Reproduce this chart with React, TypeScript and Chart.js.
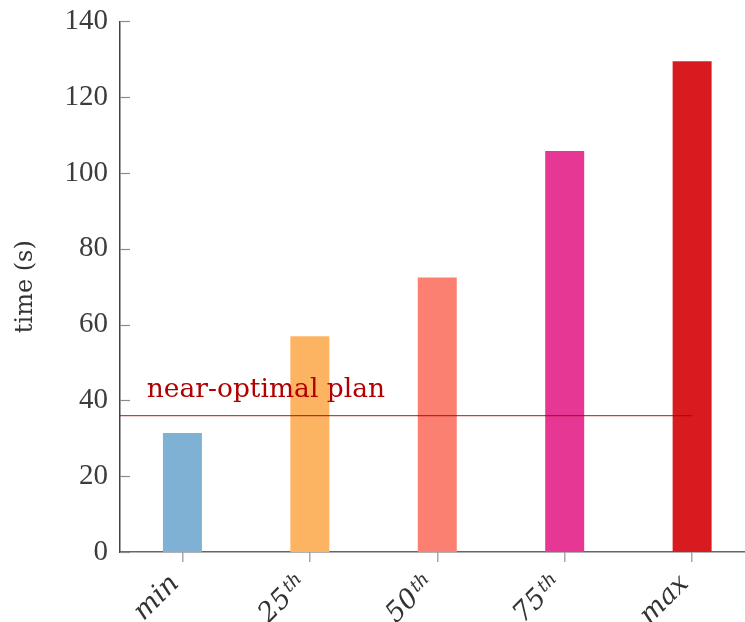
import React, { useEffect, useRef } from "react";
import { Chart, registerables } from "chart.js";

Chart.register(...registerables);

const categories = ["min", "25", "50", "75", "max"];
const superscripts = ["", "th", "th", "th", ""];
const times = [31.4, 56.9, 72.4, 105.8, 129.5];
const barColors = ["#7eb1d4", "#fdb462", "#fb8072", "#e63795", "#d81b1e"];
const yTickValues = [0, 20, 40, 60, 80, 100, 120, 140];
const nearOptimal = 36;
const nearOptimalLabel = "near-optimal plan";
const labelAnchor = { x: -0.28, y: 41 };
const yTitle = "time (s)";

const SERIF = "'DejaVu Serif', serif";
const NUMFONT = "'Liberation Serif', serif";

const customPlugin = {
  id: "custom",
  afterDatasetsDraw(chart: any) {
    const ctx = chart.ctx;
    const xs = chart.scales.x;
    const ys = chart.scales.y;
    const y = ys.getPixelForValue(nearOptimal);
    ctx.save();
    ctx.strokeStyle = "rgba(175,0,0,0.75)";
    ctx.lineWidth = 1.3;
    ctx.beginPath();
    ctx.moveTo(chart.chartArea.left, y);
    ctx.lineTo(xs.getPixelForValue(categories.length - 1), y);
    ctx.stroke();
    ctx.fillStyle = "#b00000";
    ctx.font = `26.5px ${SERIF}`;
    ctx.textAlign = "left";
    ctx.textBaseline = "alphabetic";
    ctx.fillText(nearOptimalLabel, xs.getPixelForValue(labelAnchor.x), ys.getPixelForValue(labelAnchor.y));
    ctx.restore();
  },
  afterDraw(chart: any) {
    const ctx = chart.ctx;
    const xs = chart.scales.x;
    const ys = chart.scales.y;
    const area = chart.chartArea;
    ctx.save();
    ctx.strokeStyle = "#8a8a8a";
    ctx.lineWidth = 1.2;
    yTickValues.forEach((v) => {
      const py = Math.round(ys.getPixelForValue(v)) + 0.5;
      ctx.beginPath();
      ctx.moveTo(area.left, py);
      ctx.lineTo(area.left + 10, py);
      ctx.stroke();
    });
    ctx.fillStyle = "#333";
    const mainFont = `italic 27px ${SERIF}`;
    const supFont = `italic 18px ${SERIF}`;
    categories.forEach((c, i) => {
      const px = xs.getPixelForValue(i);
      const ay = area.bottom + 27;
      ctx.save();
      ctx.translate(px - 8, ay);
      ctx.rotate(-Math.PI / 4);
      ctx.textAlign = "left";
      ctx.textBaseline = "alphabetic";
      ctx.font = mainFont;
      const wMain = ctx.measureText(c).width;
      const sup = superscripts[i];
      ctx.font = supFont;
      const wSup = sup ? ctx.measureText(sup).width + 2 : 0;
      const total = wMain + wSup;
      ctx.font = mainFont;
      ctx.fillText(c, -total, 8);
      if (sup) {
        ctx.font = supFont;
        ctx.fillText(sup, -wSup + 2, 8 - 7);
      }
      ctx.restore();
    });
    ctx.restore();
  },
};

export default function App() {
  const ref = useRef<HTMLCanvasElement | null>(null);
  useEffect(() => {
    if (!ref.current) return;
    const chart = new Chart(ref.current, {
      type: "bar",
      data: {
        datasets: [
          {
            data: times.map((v, i) => ({ x: i, y: v })),
            backgroundColor: barColors,
            borderWidth: 0,
            barPercentage: 0.306,
            categoryPercentage: 1,
          },
        ],
      },
      options: {
        responsive: false,
        animation: false,
        devicePixelRatio: 1,
        layout: { padding: { left: 0, top: 16, right: 0, bottom: 0 } },
        plugins: { legend: { display: false }, tooltip: { enabled: false } },
        scales: {
          x: {
            type: "linear",
            min: -0.49,
            max: 4.415,
            offset: false,
            afterBuildTicks: (s: any) => {
              s.ticks = categories.map((_, i) => ({ value: i }));
            },
            afterFit: (s: any) => {
              s.height = 70;
            },
            grid: {
              display: true,
              offset: false,
              drawOnChartArea: false,
              drawTicks: true,
              tickLength: 10,
              color: "#a8a8a8",
              lineWidth: 1.5,
            },
            border: { display: true, color: "#666", width: 1.5 },
            ticks: { display: false },
          },
          y: {
            min: 0,
            max: 140,
            afterBuildTicks: (s: any) => {
              s.ticks = yTickValues.map((v) => ({ value: v }));
            },
            afterFit: (s: any) => {
              s.width = 120;
            },
            grid: { display: false },
            border: { display: true, color: "#444", width: 1.5 },
            ticks: {
              padding: 4,
              color: "#3c3c3c",
              font: { family: NUMFONT, size: 29 },
            },
            title: {
              display: true,
              text: yTitle,
              color: "#333",
              font: { family: SERIF, size: 24 },
              padding: { top: 11, bottom: 0 },
            },
          },
        },
      },
      plugins: [customPlugin],
    } as any);
    return () => chart.destroy();
  }, []);
  return (
    <div style={{ position: "absolute", left: 0, top: 0, width: 745, height: 622, background: "#fff" }}>
      <canvas ref={ref} width={745} height={622} style={{ display: "block" }} />
    </div>
  );
}
